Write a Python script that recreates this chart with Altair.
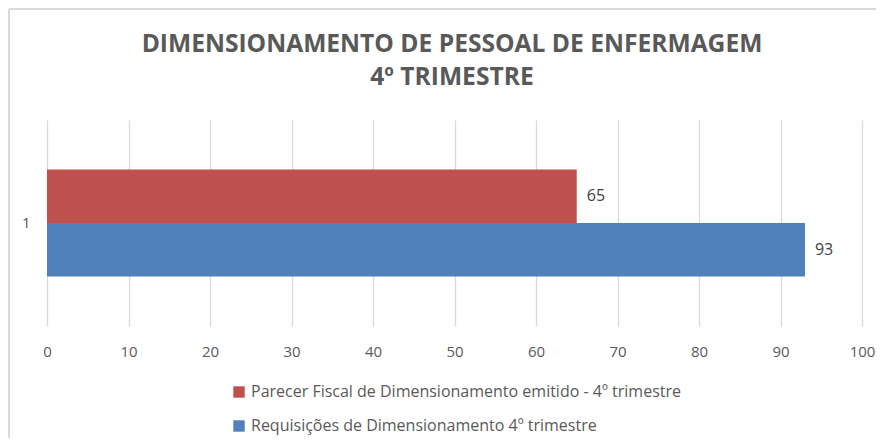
import altair as alt
import pandas as pd

series = [
    "Parecer Fiscal de Dimensionamento emitido - 4º trimestre",
    "Requisições de Dimensionamento 4º trimestre",
]
values = [65, 93]
category = ["1", "1"]
colors = ["#C0504D", "#4F81BD"]
x_ticks = [0, 10, 20, 30, 40, 50, 60, 70, 80, 90, 100]
title_lines = ["DIMENSIONAMENTO DE PESSOAL DE ENFERMAGEM", "4º TRIMESTRE"]

df = pd.DataFrame({"cat": category, "series": series, "value": values})

FONT = "Open Sans"
GRAY = "#595959"

base = alt.Chart(df)

y_enc = alt.Y(
    "cat:N",
    scale=alt.Scale(paddingInner=0, paddingOuter=0.4626),
    axis=alt.Axis(title=None, domain=False, ticks=False, labelPadding=17,
                  labelFontSize=15, labelColor=GRAY, labelFont=FONT, grid=False),
)
yoff_enc = alt.YOffset("series:N", sort=series, scale=alt.Scale(paddingInner=0, paddingOuter=0))

bars = base.mark_bar().encode(
    x=alt.X(
        "value:Q",
        scale=alt.Scale(domain=[0, 100], nice=False),
        axis=alt.Axis(values=x_ticks, title=None, grid=True, domain=False, ticks=False,
                      labelPadding=18, labelFontSize=15, labelColor=GRAY, labelFont=FONT,
                      labelFlush=False, labelBound=False, labelOverlap=False,
                      gridColor="#D9D9D9", gridWidth=1.3),
    ),
    y=y_enc,
    yOffset=yoff_enc,
    color=alt.Color(
        "series:N",
        sort=series,
        scale=alt.Scale(domain=series, range=colors),
        legend=alt.Legend(
            title=None, orient="none", legendX=184, legendY=264, direction="vertical",
            symbolType="square", symbolSize=130, symbolStrokeWidth=0, symbolOpacity=1,
            labelFontSize=16, labelFont=FONT, labelColor=GRAY, labelOffset=4,
            rowPadding=18, padding=0, labelLimit=600,
        ),
    ),
)

labels = base.mark_text(align="left", baseline="middle", dx=10, fontSize=16,
                        color="#404040", font=FONT).encode(
    x=alt.X("value:Q"),
    y=alt.Y("cat:N"),
    yOffset=yoff_enc,
    text=alt.Text("value:Q"),
)

title1 = alt.Chart(pd.DataFrame({"line": [title_lines[0]]})).mark_text(
    fontSize=24.6, fontWeight="bold", color=GRAY, font=FONT, align="center", baseline="middle"
).encode(x=alt.value(405), y=alt.value(-75), text="line:N")
title2 = alt.Chart(pd.DataFrame({"line": [title_lines[1]]})).mark_text(
    fontSize=24.6, fontWeight="bold", color=GRAY, font=FONT, align="center", baseline="middle"
).encode(x=alt.value(405), y=alt.value(-42), text="line:N")

border_top = base.mark_rule(color="#D9D9D9", strokeWidth=2).encode(
    x=alt.value(-38), x2=alt.value(840), y=alt.value(-111)
)
border_left = base.mark_rule(color="#D9D9D9", strokeWidth=2).encode(
    x=alt.value(-38), y=alt.value(-111), y2=alt.value(330)
)

chart = alt.layer(border_top, border_left, title1, title2, bars, labels).properties(
    width=815,
    height=206,
    autosize=alt.AutoSizeParams(type="none"),
    padding={"left": 39, "top": 112, "right": 14, "bottom": 112},
).configure_view(stroke=None)

chart.save("out.html", embed_options={"renderer": "svg", "actions": False})
